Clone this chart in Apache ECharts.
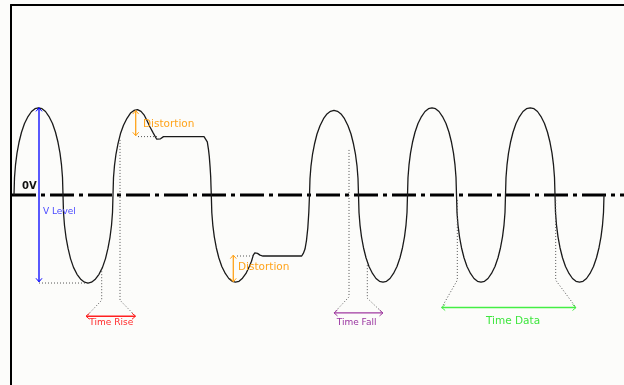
<!DOCTYPE html>
<html>
<head>
<meta charset="utf-8">
<script src="https://cdn.jsdelivr.net/npm/echarts@6/dist/echarts.min.js"></script>
<style>html,body{margin:0;padding:0;background:#fcfcfa;}#c{width:624px;height:385px;}</style>
</head>
<body>
<div id="c"></div>
<script>
// time (arbitrary units) vs voltage (V level = 1)
const waveform = [
  [3,0],[3.5,0.2],[4.5,0.345],[6,0.48],[8,0.605],[10.5,0.72],[13.5,0.82],[17,0.9],[20.5,0.958],[24,0.99],[27.5,1],
  [31,0.99],[34.5,0.958],[38,0.9],[41.5,0.82],[44.5,0.72],[47,0.605],[49,0.48],[50.5,0.345],[51.5,0.2],[52,0],
  [52.5,-0.2],[53.5,-0.35],[55,-0.485],[57,-0.61],[59.5,-0.73],[62.5,-0.83],[66,-0.91],[70,-0.97],[73.5,-1.0],[77,-1.01],
  [80.5,-1.0],[84,-0.97],[88,-0.91],[91.5,-0.83],[94.5,-0.73],[97,-0.61],[99,-0.485],[100.5,-0.35],[101.5,-0.2],[102,0],
  [102.5,0.2],[103.5,0.34],[105,0.47],[107,0.59],[109.5,0.705],[112.5,0.8],[116,0.88],[119.5,0.94],[123,0.97],[126.5,0.98],
  [130,0.96],[133,0.92],[135.7,0.86],[139,0.78],[142.3,0.71],[145.7,0.64],[147.5,0.62],[149.5,0.645],[152.5,0.67],
  [193,0.67],[195,0.66],[196.3,0.61],[197.5,0.52],[198.3,0.44],[199.1,0.32],[199.7,0.21],[200,0.1],[200.3,0],
  [200.8,-0.2],[201.8,-0.345],[203.3,-0.48],[205.3,-0.605],[207.8,-0.72],[210.8,-0.82],[214.3,-0.9],[217.8,-0.958],[221.2,-0.99],[224.5,-1.0],
  [228,-0.99],[231.5,-0.955],[235,-0.9],[238.3,-0.82],[240.5,-0.76],[242.3,-0.69],[243.8,-0.665],[245,-0.66],[246.5,-0.67],[249,-0.69],[252,-0.7],
  [290.7,-0.7],[292.3,-0.67],[294,-0.62],[295.5,-0.52],[296.8,-0.38],[297.8,-0.2],[298.5,0],
  [299,0.19],[300,0.335],[301.5,0.465],[303.5,0.585],[306,0.7],[309,0.795],[312.5,0.875],[316,0.93],[319.5,0.96],[323,0.97],
  [326.5,0.96],[330,0.93],[333.5,0.875],[337,0.795],[340,0.7],[342.5,0.585],[344.5,0.465],[346,0.335],[347,0.19],[347.5,0],
  [348,-0.2],[349,-0.345],[350.5,-0.48],[352.5,-0.605],[355,-0.72],[358,-0.82],[361.5,-0.9],[365,-0.958],[368.5,-0.99],[372,-1],
  [375.5,-0.99],[379,-0.958],[382.5,-0.9],[386,-0.82],[389,-0.72],[391.5,-0.605],[393.5,-0.48],[395,-0.345],[396,-0.2],[396.5,0],
  [397,0.2],[398,0.345],[399.5,0.48],[401.5,0.605],[404,0.72],[407,0.82],[410.5,0.9],[414,0.958],[417.5,0.99],[421,1],
  [424.5,0.99],[428,0.958],[431.5,0.9],[435,0.82],[438,0.72],[440.5,0.605],[442.5,0.48],[444,0.345],[445,0.2],[445.5,0],
  [446,-0.2],[447,-0.345],[448.5,-0.48],[450.5,-0.605],[453,-0.72],[456,-0.82],[459.5,-0.9],[463,-0.958],[466.5,-0.99],[470,-1],
  [473.5,-0.99],[477,-0.958],[480.5,-0.9],[484,-0.82],[487,-0.72],[489.5,-0.605],[491.5,-0.48],[493,-0.345],[494,-0.2],[494.5,0],
  [495,0.2],[496,0.345],[497.5,0.48],[499.5,0.605],[502,0.72],[505,0.82],[508.5,0.9],[512,0.958],[515.5,0.99],[519.25,1],
  [523,0.99],[526.5,0.958],[530,0.9],[533.5,0.82],[536.5,0.72],[539,0.605],[541,0.48],[542.5,0.345],[543.5,0.2],[544,0],
  [544.5,-0.2],[545.5,-0.345],[547,-0.48],[549,-0.605],[551.5,-0.72],[554.5,-0.82],[558,-0.9],[561.5,-0.958],[565,-0.99],[568.5,-1],
  [572,-0.99],[575.5,-0.958],[579,-0.9],[582.5,-0.82],[585.5,-0.72],[588,-0.605],[590,-0.48],[591.5,-0.345],[592.5,-0.2],[593,0]
];

const zeroLine = [[1,0],[613,0]];

const guides = [
  [[28,-1.01],[77,-1.01]],
  [[127,0.67],[146,0.67]],
  [[226,-0.70],[242,-0.70]],
  [[90.7,-0.84],[90.7,-1.207],[75.5,-1.391]],
  [[109,0.632],[109,-1.207],[124.5,-1.391]],
  [[338,0.517],[338,-1.169],[323,-1.353]],
  [[356.3,-0.805],[356.3,-1.184],[371.7,-1.353]],
  [[446.3,-0.057],[446.3,-0.977],[430.7,-1.291]],
  [[544.7,-0.057],[544.7,-0.977],[565,-1.291]]
];

const arrowFrom = [[28,1.0],[124.7,0.969],[222.3,-0.69],[75,-1.391],[323,-1.353],[430.7,-1.291]];
const arrowTo   = [[28,-0.996],[124.7,0.68],[222.3,-0.996],[124.5,-1.391],[372,-1.353],[565,-1.291]];

const labelText = ['0V','V Level','Distortion','Distortion','Time Rise','Time Fall','Time Data'];
const labelAt = [[11,0.103],[32,-0.195],[132,0.816],[227,-0.824],[78.3,-1.463],[325.7,-1.463],[475,-1.445]];

// styles
const arrowColors = ['#0000ff','#ffa31a','#ffa31a','#ff2020','#a03aa0','#44ee44'];
const labelColors = ['#111111','#4a4aff','#ffa31a','#ffa31a','#ff2a2a','#9933a0','#3ee63e'];
const labelFonts = ['bold 10px "DejaVu Sans"','9px "DejaVu Sans"','10.5px "DejaVu Sans"','10.5px "DejaVu Sans"','9px "DejaVu Sans"','9px "DejaVu Sans"','10.5px "DejaVu Sans"'];

const chart = echarts.init(document.getElementById('c'), null, {renderer:'canvas'});

const series = [];
series.push({
  type:'line', data: zeroLine, showSymbol:false, silent:true, z:1,
  lineStyle:{color:'#000', width:3, type:[24,5,4,5], cap:'butt'}
});
series.push({
  type:'line', data: waveform, showSymbol:false, silent:true, z:2,
  lineStyle:{color:'#1a1a1a', width:1.3}
});
guides.forEach(g => series.push({
  type:'line', data:g, showSymbol:false, silent:true, z:3,
  lineStyle:{color:'#555', width:1, type:[1,2]}
}));
series.push({
  type:'custom', z:4, silent:true,
  data: arrowFrom.map((a,i)=>[a[0],a[1],arrowTo[i][0],arrowTo[i][1]]),
  encode:{x:[0,2], y:[1,3]},
  renderItem:function(params, api){
    const p1 = api.coord([api.value(0), api.value(1)]);
    const p2 = api.coord([api.value(2), api.value(3)]);
    const dx = p2[0]-p1[0], dy = p2[1]-p1[1];
    const L = Math.hypot(dx,dy) || 1;
    const ux = dx/L, uy = dy/L, nx = -uy, ny = ux;
    const h = 3.5, w = 3;
    const col = arrowColors[params.dataIndex];
    const head = (p, s) => [[p[0]+s*ux*h+nx*w, p[1]+s*uy*h+ny*w],[p[0],p[1]],[p[0]+s*ux*h-nx*w, p[1]+s*uy*h-ny*w]];
    return {type:'group', children:[
      {type:'line', shape:{x1:p1[0],y1:p1[1],x2:p2[0],y2:p2[1]}, style:{stroke:col, lineWidth:1.3}},
      {type:'polyline', shape:{points:head(p1,1)}, style:{stroke:col, fill:null, lineWidth:1}},
      {type:'polyline', shape:{points:head(p2,-1)}, style:{stroke:col, fill:null, lineWidth:1}}
    ]};
  }
});
series.push({
  type:'custom', z:5, silent:true,
  data: labelAt,
  renderItem:function(params, api){
    const p = api.coord([api.value(0), api.value(1)]);
    const i = params.dataIndex;
    return {type:'text', x:p[0], y:p[1], style:{text:labelText[i], fill:labelColors[i], font:labelFonts[i], align:'left', verticalAlign:'middle'}};
  }
});

chart.setOption({
  backgroundColor:'#fcfcfa',
  animation:false,
  grid:{left:11, top:5, right:0, bottom:0, containLabel:false},
  xAxis:{type:'value', min:0, max:613, position:'top',
    axisLine:{show:true, onZero:false, lineStyle:{color:'#000', width:2}},
    axisTick:{show:false}, axisLabel:{show:false}, splitLine:{show:false}},
  yAxis:{type:'value', min:-2.18, max:2.18,
    axisLine:{show:true, onZero:false, lineStyle:{color:'#000', width:2}},
    axisTick:{show:false}, axisLabel:{show:false}, splitLine:{show:false}},
  series: series
});
</script>
</body>
</html>
